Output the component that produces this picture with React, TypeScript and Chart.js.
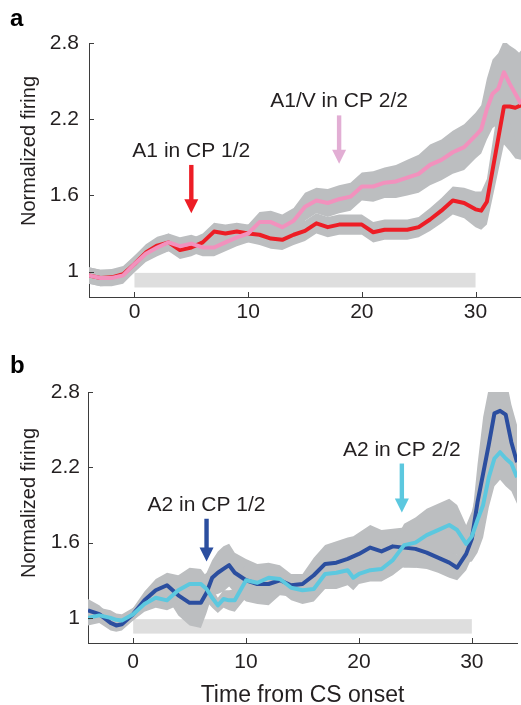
import React, { useEffect, useRef } from "react";
import { Chart, registerables } from "chart.js";

Chart.register(...registerables);

// ---------- DATA ----------
const X_TICKS = [0, 10, 20, 30];
const Y_TICKS = [1, 1.6, 2.2, 2.8];
const Y_TITLE = "Normalized firing";
const X_TITLE = "Time from CS onset";
const CS_BAR_X = [0, 30];
const CS_BAR_Y = [0.875, 0.99];

// Panel a
const X_A = [-4, -3, -2, -1, 0, 1, 2, 3, 4, 5, 6, 7, 8, 9, 10, 11, 12, 13, 14, 15, 16, 17, 18, 19, 20, 21, 22, 23, 24, 25, 26, 27, 28, 29, 30, 30.5, 31, 31.5, 32, 32.5, 33, 33.5, 34];
const A1_CP1 = [0.97, 0.95, 0.955, 0.98, 1.06, 1.15, 1.205, 1.23, 1.17, 1.19, 1.23, 1.315, 1.3, 1.315, 1.3, 1.29, 1.26, 1.25, 1.29, 1.32, 1.38, 1.35, 1.37, 1.37, 1.37, 1.31, 1.33, 1.33, 1.33, 1.35, 1.41, 1.48, 1.56, 1.54, 1.49, 1.48, 1.55, 1.8, 2.05, 2.3, 2.3, 2.29, 2.31];
const A1_CP1_ERR = [0.065, 0.065, 0.065, 0.065, 0.065, 0.065, 0.07, 0.07, 0.07, 0.07, 0.07, 0.07, 0.07, 0.07, 0.07, 0.08, 0.08, 0.08, 0.08, 0.08, 0.08, 0.08, 0.08, 0.08, 0.08, 0.08, 0.08, 0.08, 0.08, 0.08, 0.09, 0.1, 0.11, 0.12, 0.14, 0.15, 0.18, 0.22, 0.26, 0.3, 0.35, 0.4, 0.43];
const A1V_CP2 = [0.97, 0.95, 0.95, 0.97, 1.06, 1.14, 1.19, 1.23, 1.2, 1.22, 1.19, 1.19, 1.23, 1.27, 1.3, 1.39, 1.39, 1.35, 1.4, 1.51, 1.56, 1.54, 1.57, 1.59, 1.67, 1.67, 1.7, 1.71, 1.74, 1.77, 1.84, 1.88, 1.94, 1.98, 2.07, 2.12, 2.28, 2.4, 2.44, 2.57, 2.48, 2.4, 2.32];
const A1V_CP2_ERR = [0.065, 0.065, 0.065, 0.065, 0.065, 0.065, 0.07, 0.07, 0.07, 0.07, 0.07, 0.07, 0.07, 0.07, 0.07, 0.08, 0.09, 0.1, 0.1, 0.11, 0.1, 0.11, 0.11, 0.11, 0.11, 0.12, 0.12, 0.13, 0.14, 0.15, 0.16, 0.16, 0.17, 0.18, 0.18, 0.19, 0.24, 0.27, 0.28, 0.25, 0.3, 0.35, 0.39];

// Panel b
const X_B = [-4, -3, -2, -1.5, -1, 0, 1, 2, 3, 4, 5, 6, 6.5, 7, 7.5, 8, 8.5, 9, 10, 11, 12, 13, 14, 15, 16, 17, 18, 19, 19.5, 20, 21, 22, 23, 24, 25, 26, 27, 28, 28.7, 29.5, 30, 30.5, 31, 31.5, 32, 32.5, 33, 33.5, 34];
const A2_CP1 = [1.06, 1.03, 0.96, 0.94, 0.95, 1.03, 1.14, 1.22, 1.26, 1.18, 1.12, 1.12, 1.2, 1.32, 1.36, 1.39, 1.42, 1.36, 1.3, 1.27, 1.27, 1.3, 1.26, 1.27, 1.34, 1.43, 1.44, 1.47, 1.49, 1.51, 1.56, 1.53, 1.57, 1.56, 1.55, 1.52, 1.48, 1.44, 1.4, 1.51, 1.63, 1.92, 2.15, 2.38, 2.63, 2.65, 2.62, 2.4, 2.24];
const A2_CP1_ERR = [0.09, 0.07, 0.06, 0.05, 0.05, 0.05, 0.07, 0.09, 0.1, 0.16, 0.18, 0.2, 0.16, 0.14, 0.17, 0.18, 0.17, 0.16, 0.17, 0.16, 0.17, 0.12, 0.09, 0.08, 0.14, 0.15, 0.17, 0.17, 0.16, 0.17, 0.18, 0.17, 0.14, 0.16, 0.15, 0.13, 0.12, 0.12, 0.1, 0.13, 0.15, 0.3, 0.45, 0.45, 0.35, 0.3, 0.3, 0.3, 0.3];
const A2_CP2 = [1.0, 1.02, 1.0, 0.985, 0.98, 1.03, 1.11, 1.16, 1.14, 1.22, 1.27, 1.27, 1.23, 1.16, 1.1, 1.15, 1.14, 1.14, 1.3, 1.28, 1.32, 1.31, 1.24, 1.22, 1.23, 1.35, 1.36, 1.38, 1.32, 1.35, 1.38, 1.39, 1.46, 1.58, 1.6, 1.66, 1.7, 1.74, 1.7, 1.59, 1.65, 1.78, 1.9, 2.12, 2.27, 2.32, 2.27, 2.23, 2.12];
const A2_CP2_ERR = [0.06, 0.06, 0.06, 0.05, 0.05, 0.05, 0.06, 0.08, 0.08, 0.12, 0.13, 0.12, 0.1, 0.08, 0.06, 0.07, 0.08, 0.09, 0.14, 0.12, 0.11, 0.1, 0.1, 0.11, 0.1, 0.12, 0.13, 0.12, 0.1, 0.08, 0.09, 0.1, 0.12, 0.17, 0.2, 0.21, 0.21, 0.21, 0.2, 0.15, 0.2, 0.26, 0.26, 0.24, 0.22, 0.22, 0.22, 0.22, 0.21];

// Annotations (x, arrow top value, arrow tip value)
const NOTE_A1 = { text: "A1 in CP 1/2", x: 5, top: 1.84, tip: 1.46 };
const NOTE_A1V = { text: "A1/V in CP 2/2", x: 18, top: 2.23, tip: 1.85 };
const NOTE_A2_1 = { text: "A2 in CP 1/2", x: 6.5, top: 1.79, tip: 1.45 };
const NOTE_A2_2 = { text: "A2 in CP 2/2", x: 23.8, top: 2.23, tip: 1.84 };

// ---------- STYLE ----------
const FONT = "'Liberation Sans', Arial, Helvetica, sans-serif";
const INK = "#231F20";
const AXIS = "#3D3D3D";
const BAND = "#BCBEC0";
const BAR = "#DEDEDE";
const RED = "#ED1D25";
const PINK = "#F291BD";
const PINK_ARROW = "#E2AED4";
const BLUE = "#2B4E9F";
const CYAN = "#5CC8DF";

interface Series { values: number[]; err: number[]; color: string; }
interface Note { text: string; x: number; top: number; tip: number; color: string; }
interface PanelSpec {
  letter: string;
  letterBaseline: number;
  xs: number[];
  series: Series[]; // first = drawn on top
  notes: Note[];
  top: number;
  width: number;
  height: number;
  area: { left: number; top: number; right: number; bottom: number };
  yLabelPad: number;
  xLabelPad: number;
  yTitleX: number;
  yTitleY: number;
  xTitle: boolean;
}

const PANEL_A: PanelSpec = {
  letter: "a",
  letterBaseline: 26,
  xs: X_A,
  series: [
    { values: A1V_CP2, err: A1V_CP2_ERR, color: PINK },
    { values: A1_CP1, err: A1_CP1_ERR, color: RED },
  ],
  notes: [
    { ...NOTE_A1, color: RED },
    { ...NOTE_A1V, color: PINK_ARROW },
  ],
  top: 0,
  width: 521,
  height: 340,
  area: { left: 89, top: 43, right: 521, bottom: 297 },
  yLabelPad: 10,
  xLabelPad: 3,
  yTitleX: 29,
  yTitleY: 151,
  xTitle: false,
};

const PANEL_B: PanelSpec = {
  letter: "b",
  letterBaseline: 33,
  xs: X_B,
  series: [
    { values: A2_CP2, err: A2_CP2_ERR, color: CYAN },
    { values: A2_CP1, err: A2_CP1_ERR, color: BLUE },
  ],
  notes: [
    { ...NOTE_A2_1, color: BLUE },
    { ...NOTE_A2_2, color: CYAN },
  ],
  top: 340,
  width: 521,
  height: 365,
  area: { left: 88, top: 52, right: 517, bottom: 303 },
  yLabelPad: 8,
  xLabelPad: 7,
  yTitleX: 29,
  yTitleY: 163,
  xTitle: true,
};

function pts(xs: number[], ys: number[], err?: number[], sign = 0) {
  return xs.map((x, i) => ({ x, y: ys[i] + (err ? sign * err[i] : 0) }));
}

function decoPlugin(spec: PanelSpec) {
  return {
    id: "panelDeco",
    beforeDraw(chart: any) {
      const { ctx, scales } = chart;
      const x = scales.x, y = scales.y;
      const x0 = x.getPixelForValue(CS_BAR_X[0]);
      const x1 = x.getPixelForValue(CS_BAR_X[1]);
      const yt = y.getPixelForValue(CS_BAR_Y[1]);
      const yb = y.getPixelForValue(CS_BAR_Y[0]);
      ctx.save();
      ctx.fillStyle = BAR;
      ctx.fillRect(x0, yt, x1 - x0, yb - yt);
      ctx.restore();
    },
    afterDraw(chart: any) {
      const { ctx, scales, chartArea } = chart;
      const x = scales.x, y = scales.y;
      ctx.save();
      ctx.strokeStyle = AXIS;
      ctx.lineWidth = 1;
      Y_TICKS.forEach((v) => {
        const py = Math.round(y.getPixelForValue(v)) + 0.5;
        ctx.beginPath();
        ctx.moveTo(chartArea.left, py);
        ctx.lineTo(chartArea.left + 5, py);
        ctx.stroke();
      });
      X_TICKS.forEach((v) => {
        const px = Math.round(x.getPixelForValue(v)) + 0.5;
        ctx.beginPath();
        ctx.moveTo(px, chartArea.bottom);
        ctx.lineTo(px, chartArea.bottom - 5);
        ctx.stroke();
      });
      spec.notes.forEach((n) => {
        const px = x.getPixelForValue(n.x);
        const pTop = y.getPixelForValue(n.top);
        const pTip = y.getPixelForValue(n.tip);
        const head = 14, halfHead = 7, halfShaft = 2.2;
        ctx.fillStyle = n.color;
        ctx.fillRect(px - halfShaft, pTop, halfShaft * 2, pTip - head - pTop + 1);
        ctx.beginPath();
        ctx.moveTo(px - halfHead, pTip - head);
        ctx.lineTo(px + halfHead, pTip - head);
        ctx.lineTo(px, pTip);
        ctx.closePath();
        ctx.fill();
        ctx.fillStyle = INK;
        ctx.font = `21px ${FONT}`;
        ctx.textAlign = "center";
        ctx.textBaseline = "alphabetic";
        ctx.fillText(n.text, px, pTop - 8);
      });
      ctx.save();
      ctx.translate(spec.yTitleX, spec.yTitleY);
      ctx.rotate(-Math.PI / 2);
      ctx.font = `20px ${FONT}`;
      ctx.fillStyle = INK;
      ctx.textAlign = "center";
      ctx.textBaseline = "middle";
      ctx.fillText(Y_TITLE, 0, 0);
      ctx.restore();
      ctx.font = `bold 24px ${FONT}`;
      ctx.fillStyle = "#000";
      ctx.textAlign = "left";
      ctx.textBaseline = "alphabetic";
      ctx.fillText(spec.letter, 10, spec.letterBaseline);
      ctx.restore();
    },
  };
}

function buildConfig(spec: PanelSpec): any {
  const datasets: any[] = [];
  spec.series.forEach((s, i) => {
    datasets.push({
      data: pts(spec.xs, s.values),
      borderColor: s.color,
      borderWidth: 4,
      pointRadius: 0,
      tension: 0,
      fill: false,
      borderJoinStyle: "round",
      order: i,
    });
  });
  spec.series.forEach((s) => {
    datasets.push({
      data: pts(spec.xs, s.values, s.err, -1),
      borderWidth: 0,
      borderColor: "rgba(0,0,0,0)",
      pointRadius: 0,
      fill: false,
      order: 10,
    });
    datasets.push({
      data: pts(spec.xs, s.values, s.err, 1),
      borderWidth: 0,
      borderColor: "rgba(0,0,0,0)",
      backgroundColor: BAND,
      pointRadius: 0,
      fill: "-1",
      order: 10,
    });
  });
  const a = spec.area;
  return {
    type: "line",
    data: { datasets },
    options: {
      animation: false,
      responsive: false,
      maintainAspectRatio: false,
      events: [],
      layout: { padding: { left: 0, top: a.top, right: spec.width - a.right, bottom: 0 } },
      plugins: {
        legend: { display: false },
        tooltip: { enabled: false },
        filler: { drawTime: "beforeDatasetsDraw" },
      },
      scales: {
        x: {
          type: "linear",
          min: -4,
          max: 34,
          grid: { display: false, drawTicks: false },
          border: { display: true, color: AXIS, width: 1 },
          ticks: {
            font: { family: FONT, size: 21 },
            color: INK,
            padding: spec.xLabelPad,
            maxRotation: 0,
            autoSkip: false,
            callback: (v: any) => String(v),
          },
          title: {
            display: spec.xTitle,
            text: X_TITLE,
            font: { family: FONT, size: 23 },
            color: INK,
            padding: { top: 0, bottom: -4 },
          },
          afterBuildTicks: (s: any) => {
            s.ticks = X_TICKS.map((v) => ({ value: v }));
          },
          afterFit: (s: any) => {
            s.height = spec.height - a.bottom;
          },
        },
        y: {
          type: "linear",
          min: 0.8,
          max: 2.8,
          grid: { display: false, drawTicks: false },
          border: { display: true, color: AXIS, width: 1 },
          ticks: {
            font: { family: FONT, size: 21 },
            color: INK,
            padding: spec.yLabelPad,
            autoSkip: false,
            callback: (v: any) => String(Number(v)),
          },
          afterBuildTicks: (s: any) => {
            s.ticks = Y_TICKS.map((v) => ({ value: v }));
          },
          afterFit: (s: any) => {
            s.width = a.left;
          },
        },
      },
    },
    plugins: [decoPlugin(spec)],
  };
}

function Panel({ spec }: { spec: PanelSpec }) {
  const ref = useRef<HTMLCanvasElement | null>(null);
  useEffect(() => {
    if (!ref.current) return;
    const chart = new Chart(ref.current, buildConfig(spec));
    return () => chart.destroy();
  }, [spec]);
  return (
    <canvas
      ref={ref}
      width={spec.width}
      height={spec.height}
      style={{ position: "absolute", left: 0, top: spec.top, width: spec.width, height: spec.height, display: "block" }}
    />
  );
}

export default function App() {
  return (
    <div style={{ position: "absolute", left: 0, top: 0, width: 521, height: 705, background: "#fff", overflow: "hidden" }}>
      <Panel spec={PANEL_A} />
      <Panel spec={PANEL_B} />
    </div>
  );
}
